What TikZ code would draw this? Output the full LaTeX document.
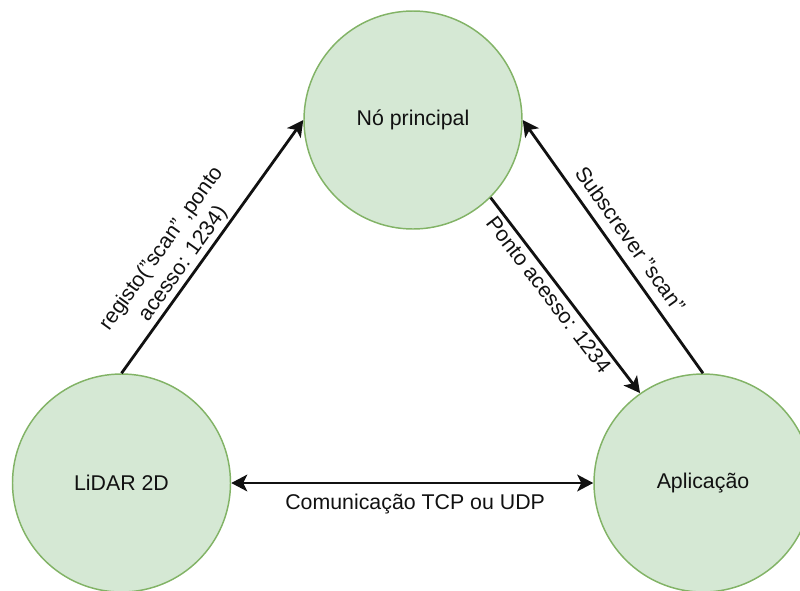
\documentclass[tikz,border=0pt]{standalone}
\usepackage{fontspec}
\setmainfont{Liberation Sans}
\usetikzlibrary{arrows.meta}
\definecolor{nodefill}{HTML}{D5E8D4}
\definecolor{nodeline}{HTML}{82B366}
\definecolor{inkdark}{HTML}{111111}
\begin{document}
\begin{tikzpicture}[x=0.75pt, y=-0.75pt,
  every node/.style={font=\fontsize{16}{19.9}\selectfont, text=inkdark},
  stage/.style={circle, draw=nodeline, fill=nodefill, line width=1.1pt,
    minimum size=163.5pt, inner sep=0pt},
  tip/.style={Stealth[length=12pt, width=12.5pt, inset=3pt]},
  flow/.style={draw=inkdark, line width=2.1pt, -{Stealth[length=12pt, width=12.5pt, inset=3pt]}},
  both/.style={draw=inkdark, line width=2.1pt, {Stealth[length=12pt, width=12.5pt, inset=3pt]}-{Stealth[length=12pt, width=12.5pt, inset=3pt]}},
  lbl/.style={sloped, anchor=center, inner sep=0pt}]
  \useasboundingbox (0,0) rectangle (800,590);
  \clip (0,0) rectangle (800,590);

  % the three stations
  \node[stage] (master) at (413,120) {Nó principal};
  \node[stage] (lidar)  at (121.5,483) {LiDAR 2D};
  \node[stage] (app)    at (703,483) {Aplicação};

  % registration of the sensor topic
  \path[flow] (lidar.north) -- (master.west)
    node[lbl, pos=0.4, yshift=20pt, align=center] {registo("scan" ,ponto\\acesso: 1234)};

  % subscription from the application
  \path[flow] (app.north) -- (master.east)
    node[lbl, pos=0.487, yshift=14pt] {Subscrever "scan"};

  % access point returned to the application
  \path[flow] (master.-45) -- (app.125)
    node[lbl, pos=0.457, yshift=-9.5pt] {Ponto acesso: 1234};

  % direct data link
  \path[both] (lidar.east) -- (app.west)
    node[lbl, pos=0.508, yshift=-15.75pt] {Comunicação TCP ou UDP};
\end{tikzpicture}
\end{document}
